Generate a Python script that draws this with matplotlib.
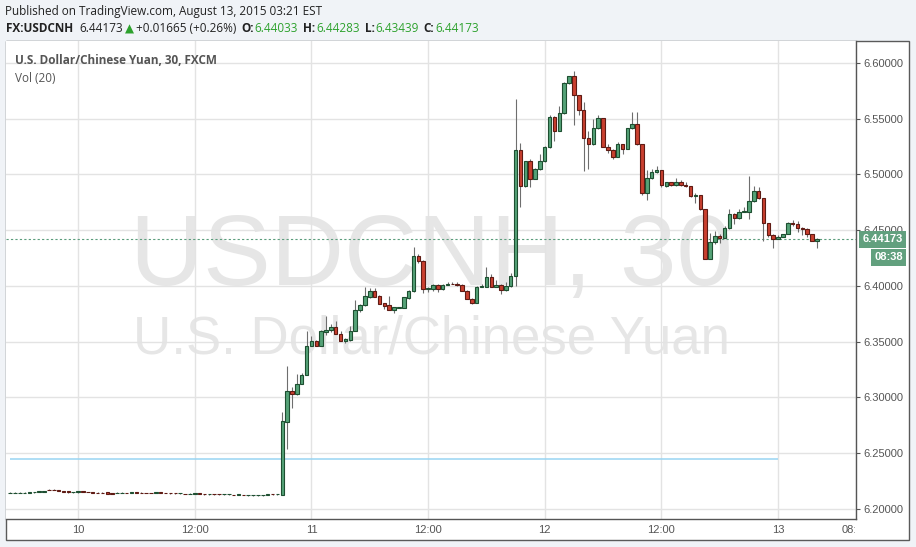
import matplotlib
matplotlib.use("Agg")
import matplotlib.pyplot as plt
import matplotlib.dates as mdates
import matplotlib.transforms as mtransforms
from matplotlib.patches import Rectangle
import pandas as pd

W, H = 916, 547

# 30 minute candles, first one opens Aug 9 17:00
first_candle = "2015-08-09 17:00"

opens = [
    # quiet sunday evening / monday
    6.2143, 6.2146, 6.2146, 6.2146, 6.2147, 6.2148, 6.2150, 6.2156, 6.2171, 6.2171,
    6.2169, 6.2158, 6.2157, 6.2148, 6.2148, 6.2158, 6.2154, 6.2150, 6.2147, 6.2147,
    6.2148, 6.2142, 6.2141, 6.2141, 6.2145, 6.2140, 6.2148, 6.2145, 6.2145, 6.2145,
    6.2143, 6.2148, 6.2145, 6.2142, 6.2142, 6.2139, 6.2137, 6.2133, 6.2134, 6.2140,
    6.2132, 6.2130, 6.2133, 6.2133, 6.2130, 6.2130, 6.2128, 6.2124, 6.2128, 6.2121,
    6.2121, 6.2121, 6.2121, 6.2124, 6.2133, 6.2130,
    # devaluation jump
    6.2128, 6.2781, 6.3056, 6.3032, 6.3125, 6.3205, 6.3465, 6.3510, 6.3465, 6.3590,
    6.3605, 6.3635, 6.3572, 6.3506, 6.3515, 6.3599, 6.3785, 6.3826, 6.3900, 6.3951,
    6.3906, 6.3843, 6.3826, 6.3785, 6.3806, 6.3801, 6.3891, 6.3957, 6.4273, 6.4225,
    6.3971, 6.3971, 6.4013, 6.3971, 6.4009, 6.4022, 6.4022, 6.4010, 6.3957, 6.3885,
    6.3850, 6.3993, 6.3993, 6.4082, 6.3993, 6.4013, 6.3962, 6.3998,
    # second jump
    6.4091, 6.5219, 6.4897, 6.5121, 6.4960, 6.5049, 6.5121, 6.5246, 6.5517, 6.5394,
    6.5550, 6.5818, 6.5881, 6.5711, 6.5577, 6.5326, 6.5272, 6.5415, 6.5505, 6.5248,
    6.5221, 6.5159, 6.5272, 6.5228, 6.5415, 6.5454, 6.5272, 6.4830, 6.4968, 6.5021,
    6.5039, 6.4895, 6.4929, 6.4905, 6.4929, 6.4908, 6.4897, 6.4807, 6.4816, 6.4690,
    6.4243, 6.4398, 6.4449, 6.4434, 6.4517, 6.4646, 6.4607, 6.4664, 6.4667, 6.4762,
    6.4852, 6.4789, 6.4565, 6.4458, 6.4422, 6.4440, 6.4467, 6.4568, 6.4557, 6.4524,
    6.4511, 6.4467, 6.44033,
]
highs = [
    6.2148, 6.2149, 6.2149, 6.2150, 6.2153, 6.2154, 6.2158, 6.2165, 6.2176, 6.2175,
    6.2170, 6.2159, 6.2158, 6.2155, 6.2159, 6.2159, 6.2155, 6.2152, 6.2149, 6.2148,
    6.2149, 6.2143, 6.2148, 6.2148, 6.2147, 6.2153, 6.2149, 6.2148, 6.2147, 6.2146,
    6.2150, 6.2149, 6.2147, 6.2143, 6.2143, 6.2142, 6.2138, 6.2141, 6.2141, 6.2141,
    6.2133, 6.2138, 6.2134, 6.2134, 6.2133, 6.2133, 6.2129, 6.2131, 6.2129, 6.2124,
    6.2124, 6.2124, 6.2125, 6.2132, 6.2134, 6.2133,
    6.2868, 6.3280, 6.3090, 6.3208, 6.3220, 6.3593, 6.3548, 6.3515, 6.3608, 6.3727,
    6.3658, 6.3690, 6.3600, 6.3535, 6.3638, 6.3876, 6.3838, 6.3987, 6.3978, 6.3978,
    6.3920, 6.3848, 6.3906, 6.3815, 6.3815, 6.3900, 6.3960, 6.4345, 6.4285, 6.4230,
    6.3990, 6.4022, 6.4018, 6.4020, 6.4040, 6.4040, 6.4040, 6.4015, 6.3960, 6.3888,
    6.3996, 6.4022, 6.4174, 6.4110, 6.4050, 6.4016, 6.4040, 6.4115,
    6.5681, 6.5284, 6.5125, 6.5135, 6.5055, 6.5180, 6.5257, 6.5530, 6.5525, 6.5616,
    6.5825, 6.5885, 6.5928, 6.5715, 6.5648, 6.5389, 6.5496, 6.5530, 6.5510, 6.5275,
    6.5225, 6.5287, 6.5276, 6.5420, 6.5562, 6.5562, 6.5276, 6.5040, 6.5050, 6.5075,
    6.5043, 6.4935, 6.4935, 6.4971, 6.4950, 6.4935, 6.4900, 6.4835, 6.4820, 6.4693,
    6.4479, 6.4494, 6.4463, 6.4535, 6.4690, 6.4650, 6.4690, 6.4711, 6.4989, 6.4899,
    6.4887, 6.4793, 6.4568, 6.4462, 6.4455, 6.4470, 6.4570, 6.4595, 6.4583, 6.4528,
    6.4524, 6.4470, 6.44283,
]
lows = [
    6.2142, 6.2145, 6.2145, 6.2145, 6.2146, 6.2147, 6.2149, 6.2155, 6.2168, 6.2168,
    6.2157, 6.2151, 6.2147, 6.2147, 6.2147, 6.2152, 6.2149, 6.2146, 6.2144, 6.2144,
    6.2137, 6.2137, 6.2140, 6.2140, 6.2140, 6.2139, 6.2143, 6.2141, 6.2141, 6.2140,
    6.2142, 6.2143, 6.2141, 6.2138, 6.2138, 6.2138, 6.2130, 6.2132, 6.2133, 6.2133,
    6.2129, 6.2129, 6.2129, 6.2129, 6.2129, 6.2129, 6.2121, 6.2123, 6.2124, 6.2120,
    6.2120, 6.2120, 6.2120, 6.2123, 6.2129, 6.2129,
    6.2125, 6.2540, 6.2907, 6.3025, 6.3120, 6.3200, 6.3460, 6.3460, 6.3460, 6.3563,
    6.3590, 6.3568, 6.3502, 6.3488, 6.3510, 6.3595, 6.3770, 6.3822, 6.3895, 6.3898,
    6.3838, 6.3795, 6.3783, 6.3757, 6.3800, 6.3798, 6.3880, 6.3950, 6.4210, 6.3936,
    6.3950, 6.3955, 6.3950, 6.3965, 6.4005, 6.4015, 6.4003, 6.3955, 6.3883, 6.3840,
    6.3846, 6.3990, 6.3990, 6.3990, 6.3990, 6.3930, 6.3958, 6.3995,
    6.3996, 6.4705, 6.4890, 6.4884, 6.4955, 6.5040, 6.5115, 6.5240, 6.5302, 6.5390,
    6.5545, 6.5815, 6.5443, 6.5537, 6.5031, 6.5045, 6.5268, 6.5410, 6.5245, 6.5195,
    6.5138, 6.5155, 6.5183, 6.5224, 6.5410, 6.5260, 6.4816, 6.4768, 6.4962, 6.5015,
    6.4890, 6.4885, 6.4900, 6.4900, 6.4900, 6.4892, 6.4800, 6.4740, 6.4685, 6.4238,
    6.4238, 6.4380, 6.4383, 6.4430, 6.4512, 6.4553, 6.4603, 6.4660, 6.4598, 6.4757,
    6.4780, 6.4405, 6.4440, 6.4338, 6.4418, 6.4436, 6.4463, 6.4540, 6.4485, 6.4460,
    6.4440, 6.4400, 6.43439,
]
closes = [
    6.2146, 6.2147, 6.2147, 6.2147, 6.2149, 6.2150, 6.2157, 6.2163, 6.2169, 6.2169,
    6.2158, 6.2152, 6.2148, 6.2151, 6.2158, 6.2153, 6.2150, 6.2147, 6.2145, 6.2145,
    6.2138, 6.2138, 6.2144, 6.2144, 6.2141, 6.2152, 6.2144, 6.2142, 6.2142, 6.2141,
    6.2149, 6.2144, 6.2142, 6.2139, 6.2139, 6.2141, 6.2131, 6.2136, 6.2140, 6.2134,
    6.2130, 6.2133, 6.2130, 6.2130, 6.2132, 6.2132, 6.2122, 6.2130, 6.2125, 6.2123,
    6.2123, 6.2123, 6.2124, 6.2131, 6.2130, 6.2132,
    6.2787, 6.3056, 6.3032, 6.3125, 6.3205, 6.3465, 6.3510, 6.3465, 6.3599, 6.3608,
    6.3635, 6.3572, 6.3506, 6.3521, 6.3599, 6.3787, 6.3826, 6.3906, 6.3951, 6.3900,
    6.3841, 6.3822, 6.3787, 6.3808, 6.3808, 6.3897, 6.3957, 6.4273, 6.4225, 6.3971,
    6.3980, 6.4013, 6.3971, 6.4013, 6.4022, 6.4018, 6.4006, 6.3957, 6.3885, 6.3850,
    6.3993, 6.3996, 6.4082, 6.3993, 6.4013, 6.3962, 6.4004, 6.4091,
    6.5219, 6.4897, 6.5121, 6.4960, 6.5049, 6.5121, 6.5246, 6.5517, 6.5394, 6.5550,
    6.5818, 6.5881, 6.5711, 6.5577, 6.5326, 6.5272, 6.5415, 6.5505, 6.5248, 6.5221,
    6.5159, 6.5272, 6.5228, 6.5415, 6.5454, 6.5272, 6.4830, 6.4968, 6.5021, 6.5039,
    6.4905, 6.4929, 6.4905, 6.4929, 6.4905, 6.4897, 6.4807, 6.4819, 6.4690, 6.4243,
    6.4398, 6.4449, 6.4434, 6.4517, 6.4646, 6.4607, 6.4664, 6.4676, 6.4762, 6.4852,
    6.4786, 6.4562, 6.4458, 6.4422, 6.4440, 6.4467, 6.4565, 6.4553, 6.4517, 6.4509,
    6.4467, 6.4405, 6.44173,
]

last_price = 6.44173
vol_ma_level = 6.2447
vol_ma_span = ["2015-08-09 17:00", "2015-08-13 00:00"]

price_ticks = [6.20, 6.25, 6.30, 6.35, 6.40, 6.45, 6.50, 6.55, 6.60]
time_ticks = ["2015-08-10 00:00", "2015-08-10 12:00", "2015-08-11 00:00", "2015-08-11 12:00",
              "2015-08-12 00:00", "2015-08-12 12:00", "2015-08-13 00:00", "2015-08-13 08:00"]
time_labels = ["10", "12:00", "11", "12:00", "12", "12:00", "13", "08:00"]
x_range = ["2015-08-09 16:35", "2015-08-13 08:01"]
y_range = [6.1910, 6.6197]

header = "Published on TradingView.com, August 13, 2015 03:21 EST"
quote_line = [("FX:USDCNH", "#222222", "bold", 6),
              ("6.44173", "#222222", "normal", 2),
              ("\u25B2", "#2da12d", "normal", 2),
              ("+0.01665 (+0.26%)", "#222222", "normal", 5),
              ("O:", "#222222", "bold", 1), ("6.44033", "#2da12d", "normal", 5),
              ("H:", "#222222", "bold", 1), ("6.44283", "#2da12d", "normal", 5),
              ("L:", "#222222", "bold", 1), ("6.43439", "#2da12d", "normal", 5),
              ("C:", "#222222", "bold", 1), ("6.44173", "#2da12d", "normal", 5)]

UI_FONT = ["Open Sans", "DejaVu Sans"]
AX_FONT = ["Liberation Sans", "DejaVu Sans"]
UP_FILL, UP_EDGE = "#55a277", "#1e4f31"
DN_FILL, DN_EDGE = "#c9402f", "#5e1b14"
LAST_GREEN = "#62a07e"

fig = plt.figure(figsize=(W / 100, H / 100), dpi=100, facecolor="#f0f3f7")
fig.patches.append(Rectangle((6 / W, 1 - 540 / H), (909 - 6) / W, (540 - 41) / H,
                             transform=fig.transFigure, fc="white", ec="#5a5a5a",
                             lw=1, zorder=-1))

ax = fig.add_axes([6 / W, 1 - 519 / H, (856 - 6) / W, (519 - 41) / H])
ax.set_zorder(1)
ax.set_facecolor("white")

times = pd.date_range(first_candle, periods=len(closes), freq="30min")
t = mdates.date2num(times)
bottoms = [min(o, c) for o, c in zip(opens, closes)]
heights = [abs(c - o) for o, c in zip(opens, closes)]
up = [c >= o for o, c in zip(opens, closes)]

ax.vlines(t, lows, highs, color="#6e6e6e", lw=0.8, zorder=2)
ax.bar(t, heights, bottom=bottoms, width=0.36 / 24,
       color=[UP_FILL if u else DN_FILL for u in up],
       edgecolor=[UP_EDGE if u else DN_EDGE for u in up], lw=0.8, zorder=3)

# volume MA line and last price line
vt = mdates.date2num(pd.to_datetime(vol_ma_span))
ax.hlines(vol_ma_level, vt[0], vt[1], color="#98d4f2", lw=1.1, zorder=1.5)
ax.axhline(last_price, color="#5b9d7c", lw=0.8, ls=(0, (2, 2)), zorder=1.6)

ax.set_xlim(mdates.date2num(pd.to_datetime(x_range)))
ax.set_ylim(y_range)

# grid
ax.set_axisbelow(True)
ax.set_yticks(price_ticks)
ax.set_yticklabels([f"{p:.5f}" for p in price_ticks])
ax.set_xticks(mdates.date2num(pd.to_datetime(time_ticks)))
ax.set_xticklabels(time_labels)
ax.grid(True, color="#e3e3e3", lw=1.0)
ax.yaxis.tick_right()
ax.tick_params(axis="y", length=3, width=0.8, color="#555555", pad=2,
               labelsize=8, labelcolor="#555555")
ax.tick_params(axis="x", length=0, pad=4, labelsize=8, labelcolor="#555555")
for lbl in ax.get_xticklabels() + ax.get_yticklabels():
    lbl.set_family(AX_FONT)
clip = mtransforms.TransformedBbox(mtransforms.Bbox.from_extents(0, 0, 855 / W, 1),
                                   fig.transFigure)
for lbl in ax.get_xticklabels():
    lbl.set_clip_box(clip)
    lbl.set_clip_on(True)
for side in ["top", "left"]:
    ax.spines[side].set_visible(False)
for side in ["right", "bottom"]:
    ax.spines[side].set_color("#555555")
    ax.spines[side].set_linewidth(1.0)

# watermark
ax.text(0.5, 0.4885, "USDCNH, 30", transform=ax.transAxes, ha="center", va="baseline",
        fontsize=73, color="#e6e6e6", family=AX_FONT, zorder=0.1)
ax.text(0.5, 0.3466, "U.S. Dollar/Chinese Yuan", transform=ax.transAxes, ha="center",
        va="baseline", fontsize=38, color="#e6e6e6", family=AX_FONT, zorder=0.1)

# legend texts inside the pane
ax.text(9 / 850, 1 - 20 / 478, "U.S. Dollar/Chinese Yuan, 30, FXCM", transform=ax.transAxes,
        ha="left", va="center", fontsize=8.5, fontweight="bold", color="#555555",
        family=UI_FONT, zorder=5)
ax.text(9 / 850, 1 - 37 / 478, "Vol (20)", transform=ax.transAxes, ha="left", va="center",
        fontsize=8.5, color="#555555", family=UI_FONT, zorder=5)

# last price labels on the price scale
blend = mtransforms.blended_transform_factory(ax.transAxes, ax.transData)
ax.annotate("6.44173", xy=(1, last_price), xycoords=blend, xytext=(47, 0),
            textcoords="offset pixels", ha="right", va="center", fontsize=8,
            fontweight="bold", color="white", family=AX_FONT, annotation_clip=False,
            bbox=dict(boxstyle="square,pad=0.3", fc=LAST_GREEN, ec="none"), zorder=10)
ax.annotate("08:38", xy=(1, last_price), xycoords=blend, xytext=(47, -18),
            textcoords="offset pixels", ha="right", va="center", fontsize=8,
            fontweight="bold", color="white", family=AX_FONT, annotation_clip=False,
            bbox=dict(boxstyle="square,pad=0.3", fc=LAST_GREEN, ec="none"), zorder=10)

# header
fig.text(5 / W, 1 - 11 / H, header, ha="left", va="center", fontsize=8.5,
         color="#222222", family=UI_FONT)
renderer = fig.canvas.get_renderer()
x = 6
for s, color, weight, gap in quote_line:
    txt = fig.text(x / W, 1 - 29 / H, s, ha="left", va="center", fontsize=8.5,
                   color=color, fontweight=weight, family=UI_FONT)
    x += txt.get_window_extent(renderer).width + gap

fig.savefig("out.png", dpi=100, facecolor=fig.get_facecolor())
